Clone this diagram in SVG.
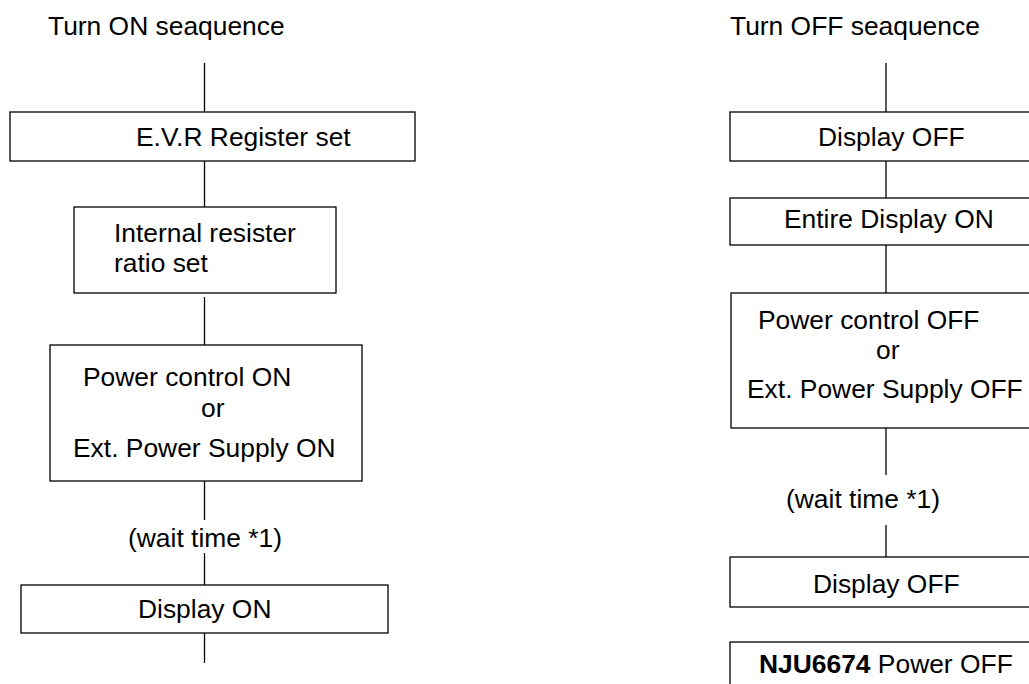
<svg xmlns="http://www.w3.org/2000/svg" width="1029" height="684" viewBox="0 0 1029 684">
<style>
  .box { fill: #fff; stroke: #000; stroke-width: 1.3; }
  .ln { stroke: #000; stroke-width: 1.3; fill: none; }
  text { font-family: "Liberation Sans", Arial, sans-serif; font-size: 26.4px; fill: #000; }
  .b { font-weight: bold; }
</style>
<rect width="1029" height="684" fill="#fff"/>
<g id="connectors">
  <line class="ln" x1="204.5" y1="63" x2="204.5" y2="112"/>
  <line class="ln" x1="204.5" y1="161" x2="204.5" y2="207"/>
  <line class="ln" x1="204.5" y1="297" x2="204.5" y2="345"/>
  <line class="ln" x1="204.5" y1="481" x2="204.5" y2="520"/>
  <line class="ln" x1="204.5" y1="553" x2="204.5" y2="585"/>
  <line class="ln" x1="204.5" y1="633" x2="204.5" y2="663"/>
  <line class="ln" x1="886" y1="63" x2="886" y2="112"/>
  <line class="ln" x1="886" y1="161" x2="886" y2="198"/>
  <line class="ln" x1="886" y1="245" x2="886" y2="293"/>
  <line class="ln" x1="886" y1="428" x2="886" y2="475"/>
  <line class="ln" x1="886" y1="525" x2="886" y2="557"/>
</g>
<g id="title-on"><text x="48" y="35">Turn ON seaquence</text></g>
<g id="title-off"><text x="730" y="35">Turn OFF seaquence</text></g>
<g id="on1">
  <rect class="box" x="10" y="112" width="405" height="49"/>
  <text x="136" y="146">E.V.R Register set</text>
</g>
<g id="on2">
  <rect class="box" x="74" y="207" width="262" height="86"/>
  <text x="114" y="242">Internal resister</text>
  <text x="114" y="272">ratio set</text>
</g>
<g id="on3">
  <rect class="box" x="50" y="345" width="312" height="136"/>
  <text x="83" y="386">Power control ON</text>
  <text x="201" y="417">or</text>
  <text x="73" y="457">Ext. Power Supply ON</text>
</g>
<g id="on-wait"><text x="128" y="547">(wait time *1)</text></g>
<g id="on4">
  <rect class="box" x="21" y="585" width="367" height="48"/>
  <text x="138" y="618">Display ON</text>
</g>
<g id="off1">
  <rect class="box" x="730" y="112" width="312" height="49"/>
  <text x="818" y="146">Display OFF</text>
</g>
<g id="off2">
  <rect class="box" x="730" y="198" width="312" height="47"/>
  <text x="784" y="228">Entire Display ON</text>
</g>
<g id="off3">
  <rect class="box" x="731" y="293" width="312" height="135"/>
  <text x="758" y="329">Power control OFF</text>
  <text x="876" y="359">or</text>
  <text x="747" y="398">Ext. Power Supply OFF</text>
</g>
<g id="off-wait"><text x="786" y="508">(wait time *1)</text></g>
<g id="off4">
  <rect class="box" x="730" y="557" width="312" height="50"/>
  <text x="813" y="593">Display OFF</text>
</g>
<g id="off5">
  <rect class="box" x="730" y="642" width="312" height="60"/>
  <text x="759" y="673"><tspan class="b">NJU6674</tspan> Power OFF</text>
</g>
</svg>
